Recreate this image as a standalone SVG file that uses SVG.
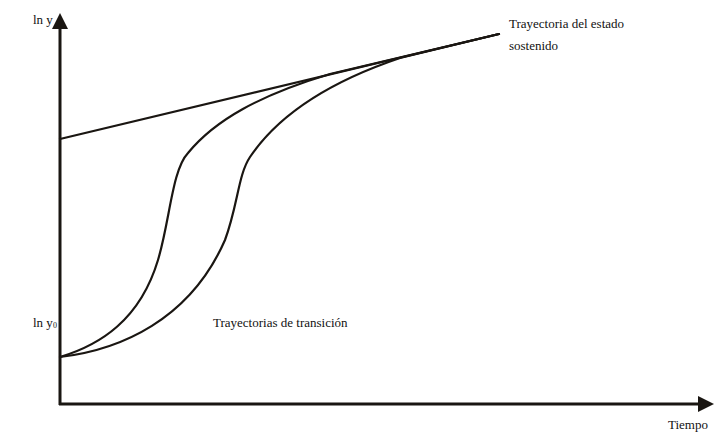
<svg xmlns="http://www.w3.org/2000/svg" width="716" height="433" viewBox="0 0 716 433">
<style>
.t{font-family:"Liberation Serif","Times New Roman","DejaVu Serif",serif;font-size:13px;fill:#111}
.c{fill:none;stroke:#1a1612;stroke-width:2.2;stroke-linecap:round}
.ax{fill:none;stroke:#1a1612;stroke-width:3}
</style>
<rect width="716" height="433" fill="#fff"/>
<g id="axes">
<line class="ax" x1="60" y1="405" x2="60" y2="24"/>
<polygon points="60,13 52,29 68,29" fill="#1a1612"/>
<line class="ax" x1="59" y1="404" x2="702" y2="404"/>
<polygon points="714,404 698,396 698,412" fill="#1a1612"/>
</g>
<g id="connectors">
<line id="steady" class="c" x1="60" y1="139" x2="499" y2="34"/>
<path id="trans1" class="c" d="M60,357 C100,345 140,320 158,260 C170,220 172,170 188,153 C215,120 260,95 330,74 L499,34"/>
<path id="trans2" class="c" d="M60,357 C120,350 190,320 225,240 C238,205 238,175 250,157 C275,120 320,85 400,58 L499,34"/>
</g>
<g id="labels">
<text class="t" x="33" y="24">ln y</text>
<text class="t" x="33" y="327">ln y<tspan font-size="8" dy="1">0</tspan></text>
<text class="t" x="509" y="28">Trayectoria del estado</text>
<text class="t" x="509" y="50">sostenido</text>
<text class="t" x="213" y="327">Trayectorias de transición</text>
<text class="t" x="668" y="429">Tiempo</text>
</g>
</svg>
